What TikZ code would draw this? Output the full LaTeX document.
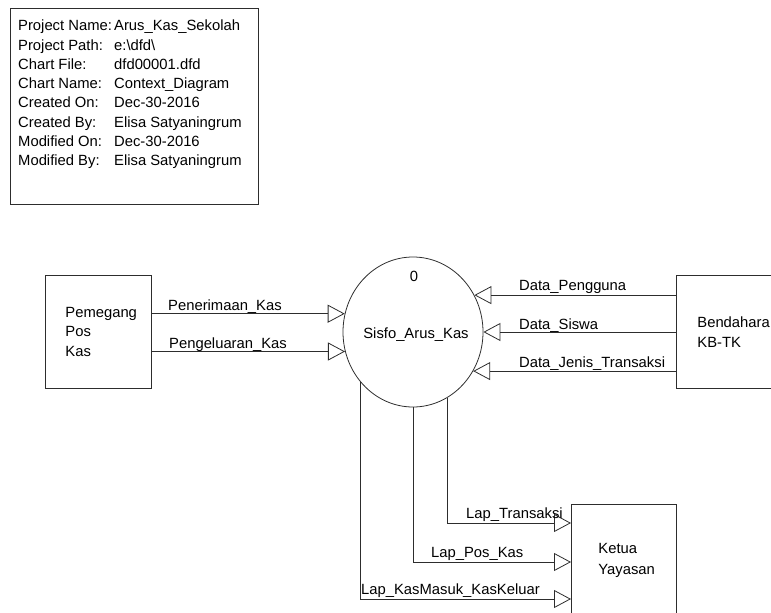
\documentclass[tikz,border=0pt]{standalone}
\usepackage{fontspec}
\setmainfont{Liberation Sans}
\usetikzlibrary{arrows.meta,shapes.geometric,calc}
\definecolor{linec}{RGB}{45,45,45}
\begin{document}
\begin{tikzpicture}[x=1pt,y=-1pt,
  every node/.style={font=\fontsize{14.8pt}{19.5pt}\selectfont},
  ent/.style={draw=linec, line width=0.8pt, rectangle, align=left, inner ysep=0pt, anchor=north west},
  flow/.style={draw=linec, line width=0.8pt, -{Triangle[open,length=17pt,width=18pt]}},
  lbl/.style={anchor=base west, inner sep=0pt},
  infot/.style={anchor=base west, inner sep=0pt}]
\clip (0,0) rectangle (771,613);
% info box
\node[draw=linec, line width=0.8pt, anchor=north west, minimum width=248pt, minimum height=196pt, inner sep=0pt] (info) at (10,8) {};
\foreach \lab/\val [count=\i] in {Project Name:/Arus\_Kas\_Sekolah,
  Project Path:/e:\textbackslash dfd\textbackslash,
  Chart File:/dfd00001.dfd,
  Chart Name:/Context\_Diagram,
  Created On:/Dec-30-2016,
  Created By:/Elisa Satyaningrum,
  Modified On:/Dec-30-2016,
  Modified By:/Elisa Satyaningrum}{
  \node[infot] (info\i) at (18,{30.7+19.3*(\i-1)}) {\makebox[96pt][l]{\lab}\val};
}
% entities
\node[ent, text width=66pt, inner xsep=20pt, minimum height=113pt] (pem) at (45,275) {Pemegang\\Pos\\Kas};
\node[ent, text width=80pt, inner xsep=21pt, minimum height=113pt] (bend) at (676,275) {Bendahara\\KB-TK};
\node[ent, text width=51pt, inner xsep=27pt, minimum height=112pt] (ket) at (571,504) {Ketua\\[1pt]Yayasan};
% process
\node[draw=linec, line width=0.8pt, ellipse, minimum width=140pt, minimum height=150pt, inner sep=0pt] (proc) at (413,332) {};
\node[anchor=base, inner sep=0pt] (procnum) at (414,281) {0};
\node[anchor=base, inner sep=0pt] (procname) at (416,338) {Sisfo\_Arus\_Kas};
% flows left
\draw[flow] (proc.165.15 -| pem.east) -- (proc.165.15);
\draw[flow] (proc.196.26 -| pem.east) -- (proc.196.26);
% flows right
\draw[flow] (proc.31.93 -| bend.west) -- (proc.31.93);
\draw[flow] (proc.east -| bend.west) -- (proc.east);
\draw[flow] (proc.327.16 -| bend.west) -- (proc.327.16);
% flows bottom
\coordinate (k1) at ($(ket.north west)+(0,19)$);
\coordinate (k2) at ($(ket.north west)+(0,58)$);
\coordinate (k3) at ($(ket.north west)+(0,95)$);
\draw[flow] (proc.298.32) |- (k1);
\draw[flow] (proc.south) |- (k2);
\draw[flow] (proc.223.99) |- (k3);
% labels
\node[lbl] (lpen) at (168,310) {Penerimaan\_Kas};
\node[lbl] (lpeng) at (169,348) {Pengeluaran\_Kas};
\node[lbl] (ldp) at (519,290) {Data\_Pengguna};
\node[lbl] (lds) at (519,329) {Data\_Siswa};
\node[lbl] (ldj) at (519,367) {Data\_Jenis\_Transaksi};
\node[lbl] (llt) at (466,518.5) {Lap\_Transaksi};
\node[lbl] (llp) at (431,557.5) {Lap\_Pos\_Kas};
\node[lbl] (llk) at (361,594.5) {Lap\_KasMasuk\_KasKeluar};
\end{tikzpicture}
\end{document}
